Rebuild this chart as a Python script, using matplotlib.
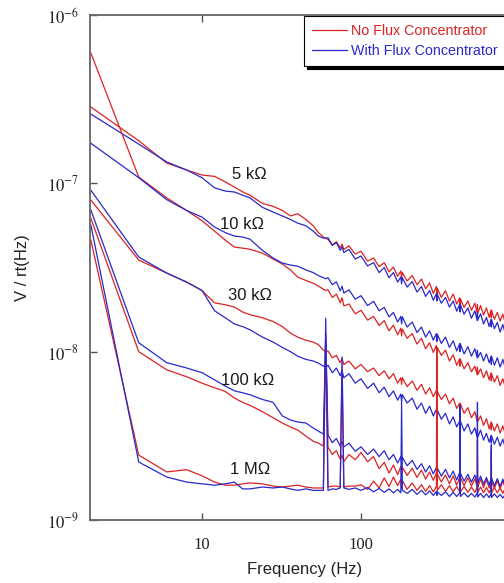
import numpy as np
import matplotlib
matplotlib.use("Agg")
import matplotlib.pyplot as plt
from matplotlib.ticker import NullLocator

plt.rcParams['font.family'] = ['Liberation Sans', 'DejaVu Sans']
plt.rcParams['mathtext.fontset'] = 'stix'

# ---- data: noise spectral density in nV/rt(Hz) ----
freq = [2, 4, 6, 8, 10, 12, 14, 16, 18, 20,
        24, 28, 32, 36, 40, 45, 50, 54, 58, 60,
        62, 66, 70, 74, 76, 78, 84, 92, 100, 110,
        120, 130, 140, 150, 160, 170, 178, 180, 182, 195,
        210, 225, 240, 255, 270, 285, 298, 300, 302, 320,
        340, 360, 380, 400, 418, 420, 422, 445, 470, 495,
        520, 538, 540, 542, 565, 590, 615, 640, 658, 660,
        662, 690, 720, 750, 780, 810, 850, 890, 930, 970,
        1000]

red_5k = [284, 179, 132, 120, 112, 110, 102, 95, 89, 85,
          76, 73, 69, 64, 66, 61, 56, 51, 48, 47,
          46.5, 43.0, 45.0, 41.5, 43.5, 40.5, 42.5, 38.0, 39.5, 34.5,
          36.0, 32.0, 33.8, 29.8, 31.8, 28.0, 30.2, 27.5, 29.5, 26.3,
          28.3, 25.0, 27.0, 23.6, 25.6, 22.2, 24.4, 22.0, 23.8, 21.0,
          23.0, 20.0, 22.0, 19.2, 20.9, 18.7, 20.6, 18.3, 20.0, 17.6,
          19.4, 17.0, 19.0, 16.9, 18.8, 16.5, 18.2, 16.0, 17.7, 15.9,
          17.6, 15.6, 17.1, 15.2, 16.7, 14.7, 16.1, 14.3, 15.7, 13.9,
          15.2]
blue_5k = [258, 171, 134, 120, 108, 94, 90, 88.8, 85, 82,
           72, 67.5, 64, 61, 58, 56, 52, 48.6, 47.3, 47.3,
           47.5, 42.8, 44.5, 40.0, 42.0, 38.8, 40.5, 35.5, 37.0, 32.3,
           33.8, 29.5, 31.6, 27.5, 29.5, 25.9, 27.8, 25.3, 27.5, 24.2,
           26.1, 22.6, 24.4, 21.3, 23.1, 20.2, 22.1, 20.0, 21.9, 19.4,
           21.0, 18.4, 20.0, 17.4, 19.2, 17.2, 19.0, 16.7, 18.2, 15.8,
           17.5, 15.3, 17.1, 15.4, 16.8, 14.6, 16.0, 14.1, 15.6, 14.0,
           15.5, 13.7, 14.9, 13.1, 14.5, 12.7, 13.9, 12.1, 13.3, 11.6,
           12.6]
red_10k = [594, 109, 82, 69, 60, 52, 46, 41.8, 41.2, 40.6,
           38.5, 35.5, 33.2, 30.6, 27.7, 26.5, 25.5, 24.5, 23.5, 23.1,
           23.3, 21.0, 22.0, 19.5, 20.9, 18.7, 19.2, 16.8, 17.6, 15.4,
           16.2, 14.3, 15.3, 13.3, 14.4, 12.6, 13.8, 12.4, 13.6, 12.0,
           12.8, 11.1, 12.0, 10.4, 11.3, 9.9, 10.9, 9.6, 10.6, 9.5,
           10.2, 8.8, 9.6, 8.3, 9.1, 8.2, 9.0, 7.9, 8.6, 7.6,
           8.2, 7.3, 8.1, 7.3, 7.9, 7.0, 7.7, 6.8, 7.5, 6.7,
           7.4, 6.6, 7.2, 6.3, 6.9, 6.1, 6.5, 5.8, 6.3, 5.6,
           6.1]
blue_10k = [173, 108, 80, 69, 63, 55, 51, 48.6, 48, 46.6,
            40, 36, 33.6, 32.7, 32.2, 30.6, 29.5, 28.3, 27.5, 27.1,
            27.5, 25.0, 26.0, 23.0, 24.5, 22.3, 23.3, 20.5, 21.5, 18.8,
            19.9, 17.5, 18.3, 16.1, 17.1, 15.0, 16.2, 14.6, 16.1, 14.0,
            15.0, 13.0, 14.0, 12.2, 13.3, 11.7, 12.8, 11.5, 12.7, 11.2,
            12.2, 10.6, 11.6, 10.1, 11.2, 10.0, 11.1, 9.7, 10.7, 9.4,
            10.4, 9.2, 10.2, 9.2, 9.9, 8.8, 9.7, 8.6, 9.4, 8.4,
            9.4, 8.3, 9.2, 8.1, 9.0, 7.9, 8.7, 7.7, 8.4, 7.5,
            8.2]
red_30k = [79.6, 35, 29.3, 25.9, 23.1, 19.5, 19.0, 18.4, 17.2, 16.6,
           15.9, 15.1, 14.1, 12.9, 12.2, 11.7, 11.4, 11.0, 10.2, 10.0,
           10.1, 9.2, 9.5, 8.6, 9.1, 8.4, 8.8, 7.9, 8.4, 7.6,
           8.0, 7.2, 7.7, 6.9, 7.4, 6.5, 7.0, 6.4, 7.0, 6.2,
           6.7, 5.9, 6.4, 5.6, 6.1, 5.4, 5.9, 5.3, 5.8, 5.2,
           5.6, 4.9, 5.3, 4.6, 4.95, 4.45, 4.9, 4.3, 4.65, 4.05,
           4.4, 3.85, 4.25, 3.85, 4.15, 3.65, 4.0, 3.48, 3.82, 3.43,
           3.8, 3.38, 3.72, 3.29, 3.62, 3.2, 3.5, 3.1, 3.42, 3.02,
           3.3]
blue_30k = [91, 36.5, 29.3, 25.9, 23.1, 17.5, 15.9, 14.6, 14.1, 13.5,
            12.2, 11.4, 10.6, 10.0, 9.4, 9.0, 8.8, 8.55, 8.2, 8.1,
            8.3, 7.5, 8.0, 7.2, 7.7, 7.0, 7.4, 6.5, 6.9, 6.05,
            6.5, 5.7, 6.15, 5.4, 5.85, 5.15, 5.6, 5.05, 5.55, 4.95,
            5.3, 4.55, 4.95, 4.3, 4.75, 4.15, 4.55, 4.1, 4.5, 3.97,
            4.3, 3.72, 4.1, 3.57, 3.88, 3.48, 3.86, 3.38, 3.72, 3.24,
            3.52, 3.1, 3.45, 3.1, 3.42, 2.98, 3.27, 2.9, 3.18, 2.86,
            3.17, 2.82, 3.1, 2.75, 3.02, 2.67, 2.9, 2.57, 2.82, 2.5,
            2.74]
red_100k = [62, 10.0, 7.8, 7.1, 6.5, 6.1, 5.8, 5.3, 5.0, 4.8,
            4.4, 4.05, 3.77, 3.57, 3.42, 3.15, 2.94, 2.86, 2.75, 11.0,
            2.7, 2.45, 2.58, 2.3, 2.42, 2.22, 2.45, 2.28, 2.52, 2.22,
            2.38, 2.02, 2.2, 1.9, 2.12, 1.86, 2.08, 1.88, 2.06, 1.84,
            2.03, 1.79, 1.98, 1.75, 1.93, 1.72, 1.9, 1.72, 1.88, 1.68,
            1.85, 1.64, 1.83, 1.61, 1.8, 1.62, 1.79, 1.6, 1.78, 1.59,
            1.76, 1.57, 1.74, 1.57, 1.75, 1.56, 1.74, 1.55, 1.72, 1.55,
            1.72, 1.54, 1.71, 1.53, 1.71, 1.53, 1.7, 1.52, 1.7, 1.52,
            1.68]
blue_100k = [69.5, 11.3, 8.6, 8.0, 7.5, 6.8, 6.25, 5.85, 5.7, 5.55,
             5.2, 5.0, 4.15, 3.93, 3.82, 3.77, 3.52, 3.37, 3.24, 12.5,
             3.2, 2.88, 3.05, 2.75, 2.92, 2.72, 2.86, 2.56, 2.72, 2.45,
             2.64, 2.38, 2.58, 2.28, 2.45, 2.18, 2.38, 2.16, 2.36, 2.1,
             2.26, 2.0, 2.16, 1.93, 2.1, 1.88, 2.05, 1.86, 2.04, 1.82,
             2.0, 1.78, 1.95, 1.73, 1.92, 1.74, 1.9, 1.7, 1.87, 1.68,
             1.85, 1.66, 1.83, 1.66, 1.82, 1.63, 1.79, 1.61, 1.78, 1.61,
             1.78, 1.6, 1.76, 1.58, 1.75, 1.57, 1.74, 1.56, 1.73, 1.56,
             1.72]
red_1M = [46, 2.43, 1.93, 1.99, 1.83, 1.68, 1.61, 1.61, 1.64, 1.66,
          1.64, 1.59, 1.57, 1.59, 1.61, 1.57, 1.55, 1.55, 1.55, 12.8,
          1.57, 1.59, 1.59, 1.57, 7.8, 1.57, 1.59, 1.59, 1.62, 1.52,
          1.7, 1.55, 1.78, 1.58, 1.8, 1.6, 1.75, 1.55, 1.72, 1.52,
          1.66, 1.5, 1.62, 1.48, 1.6, 1.47, 1.58, 9.5, 1.5, 1.62,
          1.48, 1.6, 1.47, 1.58, 1.47, 1.56, 1.47, 1.58, 1.46, 1.57,
          1.46, 1.56, 3.0, 1.46, 1.57, 1.45, 1.56, 1.45, 1.55, 2.6,
          1.45, 1.56, 1.45, 1.55, 1.44, 1.55, 1.44, 1.54, 1.44, 1.54,
          1.45]
blue_1M = [56.5, 2.21, 1.8, 1.68, 1.64, 1.61, 1.64, 1.68, 1.53, 1.53,
           1.57, 1.55, 1.57, 1.53, 1.5, 1.53, 1.5, 1.5, 1.5, 15.8,
           1.5, 1.53, 1.52, 1.55, 9.3, 1.55, 1.52, 1.55, 1.5, 1.56,
           1.47, 1.54, 1.46, 1.53, 1.45, 1.52, 1.45, 5.0, 1.5, 1.44,
           1.52, 1.42, 1.5, 1.41, 1.49, 1.4, 1.48, 1.4, 1.47, 1.4,
           1.47, 1.38, 1.46, 1.38, 1.45, 4.8, 1.38, 1.45, 1.37, 1.44,
           1.37, 1.44, 5.0, 1.37, 1.44, 1.36, 1.43, 1.36, 1.43, 2.8,
           1.36, 1.43, 1.36, 1.42, 1.35, 1.42, 1.35, 1.42, 1.35, 1.41,
           1.35]

red_curves = [red_5k, red_10k, red_30k, red_100k, red_1M]
blue_curves = [blue_5k, blue_10k, blue_30k, blue_100k, blue_1M]

# resistor labels and where they sit (Hz, nV/rt(Hz))
res_labels = ['5 k\u03a9', '10 k\u03a9', '30 k\u03a9', '100 k\u03a9', '1 M\u03a9']
label_f = [19.8, 17.9, 20.0, 19.5, 20.0]
label_v = [113, 57, 21.6, 6.7, 2.0]

legend_labels = ['No Flux Concentrator', 'With Flux Concentrator']

RED = '#dd2222'
BLUE = '#2828cc'
nV = 1e-9

# ---- figure ----
fig = plt.figure(figsize=(5.04, 5.83), dpi=100)
# axes run out past the right edge (picture is cropped there)
ax = fig.add_axes([90 / 504, 63 / 583, 430 / 504, 505 / 583])

f = np.array(freq)
for r, b in zip(red_curves, blue_curves):
    lr, = ax.plot(f, np.array(r) * nV, color=RED, lw=0.9)
    lb, = ax.plot(f, np.array(b) * nV, color=BLUE, lw=0.9)

ax.set_xscale('log')
ax.set_yscale('log')
ax.set_xlim(1.975, 1000)
ax.set_ylim(1e-9, 1e-6)

# the 1000 label falls outside the cropped picture, so leave it blank
ax.set_xticks([10, 100, 1000])
ax.set_xticklabels(['10', '100', ''], fontfamily='Liberation Serif')
ax.set_yticks([1e-9, 1e-8, 1e-7, 1e-6])
ax.set_yticklabels([r'$10^{-9}$', r'$10^{-8}$', r'$10^{-7}$', r'$10^{-6}$'])
ax.xaxis.set_minor_locator(NullLocator())
ax.yaxis.set_minor_locator(NullLocator())
ax.tick_params(direction='in', length=5, width=1, top=True, right=True,
               color='#555555', labelcolor='#222222', labelsize=12)
ax.tick_params(axis='x', pad=12)
ax.tick_params(axis='y', pad=8)

for s in ax.spines.values():
    s.set_color('#666666')
    s.set_linewidth(1.3)

ax.set_xlabel('Frequency (Hz)', fontsize=12, color='#222222')
ax.set_ylabel('V / rt(Hz)', fontsize=12, color='#222222')
ax.xaxis.set_label_coords(0.5, -0.083)
ax.yaxis.set_label_coords(-0.14, 0.5)

for txt, lf, lv in zip(res_labels, label_f, label_v):
    ax.text(lf, lv * nV, txt, fontsize=12, color='#1a1a1a',
            ha='center', va='center')

leg = ax.legend([lr, lb], legend_labels, loc='upper left',
                bbox_to_anchor=(304 / 504, 1 - 16 / 583),
                bbox_transform=fig.transFigure, borderaxespad=0,
                fancybox=False, shadow={'color': 'black', 'alpha': 1},
                edgecolor='black', framealpha=1, fontsize=10.3,
                handlelength=2.45, handletextpad=0.3, borderpad=0.55,
                labelspacing=0.45, labelcolor='linecolor')
leg.get_frame().set_linewidth(0.8)

fig.savefig('out.png', dpi=100)
